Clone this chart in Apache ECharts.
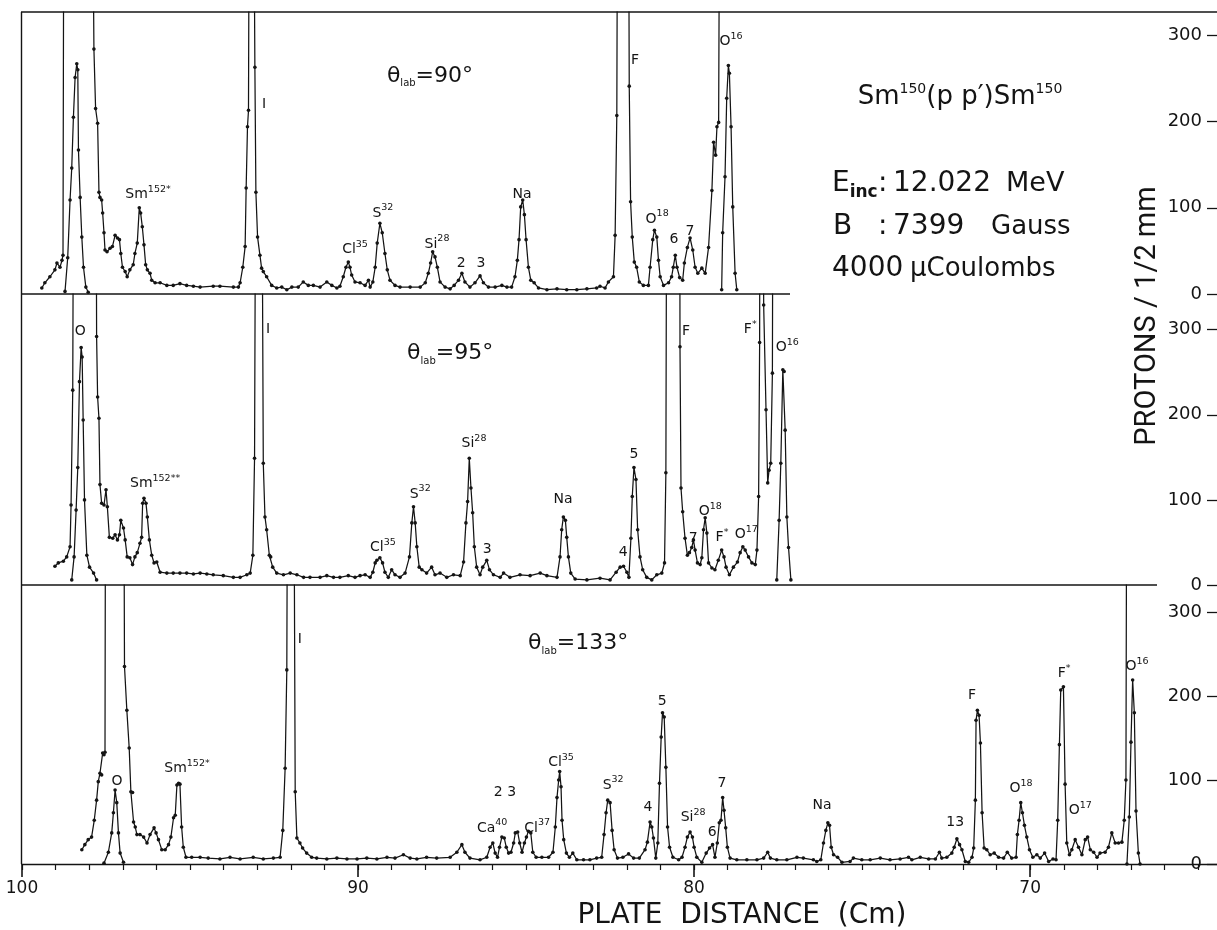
<!DOCTYPE html>
<html><head><meta charset="utf-8">
<script src="https://cdn.jsdelivr.net/npm/echarts@6/dist/echarts.min.js"></script>
<style>html,body{margin:0;padding:0;background:#fff}#c{width:1217px;height:930px}</style>
</head><body><div id="c"></div>
<script>
// ---------- axes ----------
const xMin = 64.44, xMax = 100;
const xMajorTicks = [100, 90, 80, 70];
const xMinorTicks = [65,66,67,68,69,70,71,72,73,74,75,76,77,78,79,80,81,82,83,84,85,86,87,88,89,90,91,92,93,94,95,96,97,98,99,100];
const yTicks = [0, 100, 200, 300];
const panelMax = [327, 342, 332];

// ---------- panel 1 : theta = 90 ----------
const p1Main = [[99.41,7],[99.32,13],[99.17,20],[99.02,28],[98.96,36],[98.87,31],[98.81,39],[98.78,45],[98.75,600],[97.92,600],[97.86,284],[97.81,215],[97.75,198],[97.71,118],[97.68,112],[97.63,109],[97.60,94],[97.56,71],[97.53,51],[97.47,49],[97.38,53],[97.31,55],[97.23,68],[97.16,65],[97.10,63],[97.06,47],[97.01,31],[96.93,26],[96.87,20],[96.79,28],[96.69,34],[96.64,47],[96.57,59],[96.51,100],[96.47,94],[96.42,78],[96.37,57],[96.32,34],[96.27,28],[96.19,24],[96.14,16],[96.04,13],[95.89,13],[95.69,10],[95.50,10],[95.30,12],[95.10,10],[94.90,9],[94.70,8],[94.31,9],[94.11,9],[93.71,8],[93.56,8],[93.51,13],[93.43,31],[93.36,55],[93.33,123],[93.29,194],[93.26,213],[93.23,600],[93.12,600],[93.07,263],[93.04,118],[92.99,66],[92.92,45],[92.87,30],[92.82,26],[92.72,20],[92.57,10],[92.42,7],[92.27,8],[92.12,5],[91.97,8],[91.78,8],[91.63,14],[91.48,10],[91.33,10],[91.13,8],[90.93,14],[90.78,10],[90.63,7],[90.54,9],[90.44,20],[90.36,31],[90.29,37],[90.24,31],[90.19,22],[90.09,14],[89.94,13],[89.79,10],[89.69,16],[89.64,8],[89.56,14],[89.49,31],[89.43,59],[89.35,82],[89.28,71],[89.20,47],[89.13,28],[89.05,16],[88.90,10],[88.75,8],[88.45,8],[88.15,8],[88.00,13],[87.91,24],[87.84,36],[87.78,49],[87.71,43],[87.64,31],[87.56,14],[87.41,8],[87.26,6],[87.14,10],[87.01,16],[86.91,24],[86.82,14],[86.67,8],[86.52,13],[86.37,21],[86.27,13],[86.12,8],[85.92,8],[85.72,10],[85.57,8],[85.43,8],[85.33,20],[85.26,39],[85.21,63],[85.16,101],[85.10,109],[85.05,92],[85.00,63],[84.93,31],[84.86,16],[84.76,13],[84.63,7],[84.38,5],[84.08,6],[83.79,5],[83.49,5],[83.19,6],[82.90,7],[82.80,9],[82.65,7],[82.55,14],[82.40,20],[82.35,68],[82.30,207],[82.27,600],[81.96,600],[81.93,241],[81.89,107],[81.84,66],[81.78,37],[81.71,31],[81.63,14],[81.51,10],[81.36,10],[81.31,31],[81.23,63],[81.18,74],[81.11,66],[81.06,39],[81.01,20],[80.91,10],[80.76,13],[80.67,20],[80.62,31],[80.56,45],[80.51,31],[80.43,19],[80.34,16],[80.29,36],[80.20,54],[80.12,65],[80.04,51],[79.97,31],[79.89,24],[79.77,30],[79.67,24],[79.57,54],[79.47,120],[79.42,176],[79.36,161],[79.32,194],[79.27,199],[79.23,600]];
const p1OPeak = [[98.72,3],[98.64,42],[98.57,109],[98.52,146],[98.47,205],[98.42,251],[98.37,267],[98.34,260],[98.32,167],[98.27,112],[98.22,66],[98.17,31],[98.10,8],[98.03,2]];
const p1O16Peak = [[79.18,5],[79.15,71],[79.08,136],[79.03,227],[78.98,265],[78.95,256],[78.90,194],[78.85,101],[78.78,24],[78.73,5]];
const p1Labels = [['Sm{s|152*}',96.25,115],['I',92.80,220],['Cl{s|35}',90.09,52],['S{s|32}',89.26,94],['Si{s|28}',87.65,58],['2',86.93,36],['3',86.34,36],['Na',85.12,115],['F',81.76,271],['O{s|18}',81.10,87],['6',80.60,63],['7',80.12,73],['O{s|16}',78.90,293]];
const p1Angle = [['{t|θ}{l|lab}{t|=90°}',87.86,253]];

// ---------- panel 2 : theta = 95 ----------
const p2Main = [[99.02,22],[98.92,26],[98.77,28],[98.67,33],[98.57,45],[98.54,94],[98.49,229],[98.46,600],[97.80,600],[97.78,292],[97.75,221],[97.71,196],[97.68,118],[97.63,96],[97.56,94],[97.50,112],[97.46,92],[97.40,56],[97.30,55],[97.23,59],[97.16,53],[97.10,59],[97.06,76],[96.98,67],[96.93,53],[96.87,33],[96.79,32],[96.71,24],[96.64,33],[96.57,38],[96.49,49],[96.44,56],[96.41,96],[96.37,102],[96.31,96],[96.27,80],[96.21,53],[96.14,35],[96.07,26],[95.99,27],[95.89,15],[95.69,14],[95.50,14],[95.30,14],[95.10,14],[94.90,13],[94.70,14],[94.50,13],[94.31,12],[94.01,11],[93.71,9],[93.51,9],[93.31,12],[93.21,14],[93.13,35],[93.08,149],[93.04,600],[92.87,600],[92.82,143],[92.77,80],[92.72,65],[92.64,35],[92.60,33],[92.54,21],[92.42,14],[92.22,12],[92.02,14],[91.82,12],[91.62,9],[91.43,9],[91.13,9],[90.93,11],[90.73,9],[90.54,9],[90.29,11],[90.09,9],[89.94,11],[89.79,12],[89.64,9],[89.56,15],[89.49,26],[89.44,29],[89.35,32],[89.27,26],[89.20,15],[89.10,9],[89.00,18],[88.90,12],[88.75,9],[88.60,14],[88.47,33],[88.40,73],[88.35,92],[88.30,73],[88.25,45],[88.18,21],[88.10,18],[87.96,14],[87.81,21],[87.71,12],[87.56,14],[87.36,9],[87.16,12],[86.96,11],[86.86,27],[86.79,73],[86.74,98],[86.69,149],[86.64,114],[86.59,85],[86.54,45],[86.47,21],[86.37,12],[86.29,21],[86.17,29],[86.09,18],[85.97,12],[85.77,9],[85.67,14],[85.48,9],[85.18,12],[84.88,11],[84.58,14],[84.38,11],[84.08,9],[83.99,33],[83.94,65],[83.89,80],[83.83,76],[83.79,56],[83.74,33],[83.67,14],[83.54,7],[83.19,6],[82.80,8],[82.50,6],[82.32,15],[82.20,21],[82.10,22],[82.00,15],[81.94,9],[81.88,55],[81.84,104],[81.79,138],[81.73,124],[81.68,65],[81.61,33],[81.53,18],[81.41,9],[81.26,6],[81.11,12],[80.96,14],[80.88,26],[80.84,132],[80.81,600],[80.43,600],[80.42,280],[80.39,114],[80.34,86],[80.27,55],[80.20,35],[80.14,38],[80.07,44],[80.02,53],[79.97,41],[79.90,26],[79.82,24],[79.77,32],[79.72,65],[79.67,79],[79.62,61],[79.57,26],[79.47,20],[79.38,18],[79.28,29],[79.18,41],[79.11,33],[79.05,21],[78.95,12],[78.83,21],[78.71,27],[78.63,38],[78.55,45],[78.48,41],[78.38,33],[78.28,26],[78.18,24],[78.13,41],[78.08,104],[78.05,285],[78.04,600],[77.94,600],[77.93,329],[77.86,206],[77.81,120],[77.77,135],[77.72,143],[77.67,249],[77.65,600]];
const p2OPeak = [[98.52,6],[98.45,33],[98.39,88],[98.34,138],[98.29,239],[98.24,279],[98.21,268],[98.18,194],[98.14,100],[98.07,35],[97.99,21],[97.87,14],[97.78,6]];
const p2O16Peak = [[77.54,6],[77.47,76],[77.42,143],[77.36,253],[77.32,251],[77.29,182],[77.24,80],[77.19,44],[77.12,6]];
const p2Labels = [['O',98.27,298],['I',92.68,300],['Sm{s|152**}',96.04,119],['Cl{s|35}',89.26,44],['S{s|32}',88.15,107],['Si{s|28}',86.55,166],['3',86.16,42],['Na',83.90,101],['4',82.11,38],['5',81.79,153],['F',80.24,298],['7',80.03,55],['O{s|18}',79.52,86],['F{s|*}',79.17,56],['O{s|17}',78.45,59],['F{s|*}',78.33,300],['O{s|16}',77.23,279]];
const p2Angle = [['{t|θ}{l|lab}{t|=95°}',87.26,272]];

// ---------- panel 3 : theta = 133 ----------
const p3Main = [[98.22,17],[98.13,23],[98.03,29],[97.93,32],[97.85,52],[97.78,76],[97.73,98],[97.68,108],[97.63,106],[97.60,132],[97.56,130],[97.53,133],[97.51,600],[96.98,600],[96.95,235],[96.88,183],[96.81,138],[96.76,86],[96.71,85],[96.68,50],[96.63,44],[96.58,35],[96.49,35],[96.38,32],[96.28,25],[96.19,35],[96.07,43],[96.01,37],[95.94,29],[95.84,17],[95.74,17],[95.64,23],[95.57,32],[95.49,55],[95.44,58],[95.39,94],[95.34,96],[95.30,95],[95.25,44],[95.20,20],[95.12,8],[94.95,8],[94.70,8],[94.46,7],[94.11,6],[93.81,8],[93.51,6],[93.12,8],[92.82,6],[92.52,7],[92.32,8],[92.24,40],[92.17,114],[92.12,231],[92.09,600],[91.92,600],[91.87,86],[91.82,31],[91.73,25],[91.65,19],[91.53,13],[91.38,8],[91.23,7],[90.93,6],[90.63,7],[90.33,6],[90.03,6],[89.74,7],[89.44,6],[89.14,8],[88.90,7],[88.65,11],[88.45,7],[88.25,6],[87.96,8],[87.66,7],[87.26,8],[87.06,14],[86.91,23],[86.82,14],[86.67,7],[86.37,5],[86.17,8],[86.07,20],[85.99,25],[85.92,13],[85.85,8],[85.79,20],[85.72,32],[85.65,31],[85.59,20],[85.52,13],[85.45,14],[85.37,25],[85.32,37],[85.25,38],[85.19,25],[85.12,14],[85.05,25],[84.99,32],[84.93,39],[84.86,37],[84.80,14],[84.70,8],[84.53,8],[84.33,8],[84.20,14],[84.13,44],[84.08,79],[84.03,100],[84.00,110],[83.96,92],[83.93,52],[83.88,29],[83.80,13],[83.71,8],[83.61,13],[83.49,5],[83.29,5],[83.10,5],[82.90,7],[82.75,8],[82.68,35],[82.62,61],[82.57,76],[82.50,73],[82.44,40],[82.38,17],[82.28,7],[82.12,8],[81.95,12],[81.80,7],[81.63,7],[81.46,17],[81.39,26],[81.31,50],[81.26,44],[81.21,31],[81.14,7],[81.08,25],[81.03,96],[80.98,151],[80.94,180],[80.89,175],[80.84,115],[80.79,44],[80.73,20],[80.63,8],[80.46,5],[80.36,8],[80.27,20],[80.20,32],[80.12,38],[80.05,32],[80.00,20],[79.92,8],[79.77,2],[79.64,13],[79.54,19],[79.45,23],[79.38,8],[79.31,25],[79.25,49],[79.20,52],[79.15,79],[79.11,64],[79.06,43],[79.01,20],[78.93,7],[78.73,5],[78.43,5],[78.13,5],[77.93,7],[77.81,14],[77.73,7],[77.54,5],[77.24,5],[76.94,8],[76.75,7],[76.45,5],[76.35,3],[76.23,5],[76.15,25],[76.08,40],[76.02,49],[75.97,46],[75.92,20],[75.85,11],[75.73,8],[75.60,2],[75.36,3],[75.26,7],[75.01,5],[74.76,5],[74.46,7],[74.17,5],[73.87,6],[73.62,8],[73.52,5],[73.27,8],[73.02,6],[72.82,6],[72.70,14],[72.63,7],[72.48,8],[72.33,13],[72.26,20],[72.18,30],[72.10,23],[72.03,17],[71.93,3],[71.83,2],[71.73,8],[71.68,19],[71.63,76],[71.61,171],[71.57,183],[71.52,177],[71.48,144],[71.43,61],[71.37,19],[71.29,17],[71.19,11],[71.07,13],[70.94,8],[70.79,7],[70.68,14],[70.55,7],[70.42,8],[70.38,35],[70.33,52],[70.28,73],[70.23,61],[70.17,46],[70.10,32],[70.02,17],[69.92,8],[69.80,11],[69.70,7],[69.57,13],[69.45,3],[69.32,6],[69.23,5],[69.18,52],[69.13,142],[69.09,207],[69.01,211],[68.96,95],[68.91,25],[68.83,11],[68.76,17],[68.66,29],[68.56,20],[68.46,11],[68.36,29],[68.29,32],[68.21,17],[68.11,14],[68.01,8],[67.92,13],[67.77,14],[67.67,20],[67.57,37],[67.47,25],[67.37,25],[67.27,26],[67.20,52],[67.15,100],[67.12,600]];
const p3OPeak = [[97.56,1],[97.43,14],[97.33,37],[97.28,61],[97.23,88],[97.18,73],[97.13,37],[97.08,13],[96.98,2]];
const p3O16Peak = [[67.12,0],[67.05,56],[67.00,145],[66.95,219],[66.90,180],[66.85,63],[66.78,13],[66.73,0]];
const p3Labels = [['O',97.17,98],['Sm{s|152*}',95.09,114],['I',91.73,267],['2 3',85.63,85],['Ca{s|40}',86.01,43],['Cl{s|37}',84.67,43],['Cl{s|35}',83.96,121],['S{s|32}',82.41,94],['4',81.37,67],['5',80.95,193],['Si{s|28}',80.03,55],['6',79.46,38],['7',79.17,96],['Na',76.19,70],['13',72.23,49],['F',71.73,201],['O{s|18}',70.27,90],['F{s|*}',68.99,227],['O{s|17}',68.51,64],['O{s|16}',66.82,235]];
const p3Angle = [['{t|θ}{l|lab}{t|=133°}',83.45,263]];

// ---------- texts ----------
const reactionText = 'Sm{s|150}(p p\u2032)Sm{s|150}';
const infoRow1 = ['E{b|inc}', ':', '12.022', 'MeV'];
const infoRow2 = ['B', ':', '7399', 'Gauss'];
const infoRow3 = ['4000', '\u03bcCoulombs'];
const xTitle = 'PLATE  DISTANCE  (Cm)';
const yTitle = 'PROTONS / 1/2 mm';

// ---------- build ----------
const INK = '#141414';
const FONT = 'DejaVu Sans';
const grids = [
  {left: 22, right: 0, top: 12, height: 282},
  {left: 22, right: 0, top: 294, height: 291},
  {left: 22, right: 0, top: 585, height: 279}
].map(g => Object.assign(g, {outerBoundsMode: 'none', containLabel: false}));

const xAxes = [0, 1, 2].map(i => ({
  gridIndex: i, type: 'value', inverse: true, min: xMin, max: xMax,
  axisLine: {show: i === 2, onZero: false, lineStyle: {color: INK, width: 1.4}},
  axisTick: {show: i === 2, customValues: xMinorTicks, length: 6, lineStyle: {color: INK, width: 1.2}},
  axisLabel: {show: false}, splitLine: {show: false}
}));
xAxes.push({
  gridIndex: 2, type: 'value', inverse: true, min: xMin, max: xMax, position: 'bottom',
  axisLine: {show: false},
  axisTick: {show: true, customValues: xMajorTicks, length: 13, lineStyle: {color: INK, width: 1.6}},
  axisLabel: {show: true, customValues: xMajorTicks, margin: 16, fontSize: 17, fontFamily: FONT, color: INK},
  splitLine: {show: false}
});

const yAxes = [0, 1, 2].map(i => ({
  gridIndex: i, type: 'value', position: 'right', min: 0, max: panelMax[i],
  axisLine: {show: false},
  axisTick: {show: true, inside: true, length: 10, customValues: yTicks, lineStyle: {color: INK, width: 1.3}},
  axisLabel: {show: true, inside: true, margin: 15, customValues: yTicks, fontSize: 18, fontFamily: FONT, color: INK},
  splitLine: {show: false}
}));

function curve(data, i) {
  return {
    type: 'line', xAxisIndex: i, yAxisIndex: i, data: data, clip: true,
    symbol: 'circle', symbolSize: 3.6, showSymbol: true,
    lineStyle: {color: INK, width: 1.25}, itemStyle: {color: INK},
    animation: false, silent: true, z: 3
  };
}
function labels(arr, i, big) {
  return {
    type: 'scatter', xAxisIndex: i, yAxisIndex: i, symbolSize: 0, animation: false, silent: true, z: 5,
    itemStyle: {color: 'rgba(0,0,0,0)', opacity: 1},
    data: arr.map(a => ({value: [a[1], a[2]], name: a[0]})),
    label: {
      show: true, position: 'inside', formatter: p => p.name, opacity: 1,
      fontFamily: FONT, fontSize: big ? 22 : 14, color: INK, lineHeight: big ? 26 : 20,
      textBorderWidth: 0, textBorderColor: 'transparent', textShadowBlur: 0,
      rich: {
        s: {fontFamily: FONT, fontSize: 9.5, color: INK, verticalAlign: 'top', lineHeight: 10, textBorderWidth: 0},
        t: {fontFamily: FONT, fontSize: 22, color: INK, lineHeight: 26, textBorderWidth: 0},
        l: {fontFamily: FONT, fontSize: 10, color: INK, verticalAlign: 'bottom', lineHeight: 12, textBorderWidth: 0}
      }
    },
    emphasis: {disabled: true}
  };
}

const series = [
  curve(p1Main, 0), curve(p1OPeak, 0), curve(p1O16Peak, 0), labels(p1Labels, 0), labels(p1Angle, 0, true),
  curve(p2Main, 1), curve(p2OPeak, 1), curve(p2O16Peak, 1), labels(p2Labels, 1), labels(p2Angle, 1, true),
  curve(p3Main, 2), curve(p3OPeak, 2), curve(p3O16Peak, 2), labels(p3Labels, 2), labels(p3Angle, 2, true)
];

function txt(x, y, text, size, extra) {
  return {type: 'text', x: x, y: y, silent: true, style: Object.assign({
    text: text, align: 'left', verticalAlign: 'middle', fill: INK, fontFamily: FONT, fontSize: size
  }, extra || {})};
}
const lineStyle = {stroke: INK, lineWidth: 1.4};
const graphic = [
  {type: 'line', shape: {x1: 21, y1: 12, x2: 1217, y2: 12}, style: lineStyle, silent: true},
  {type: 'line', shape: {x1: 21.5, y1: 12, x2: 21.5, y2: 864}, style: lineStyle, silent: true},
  {type: 'line', shape: {x1: 21, y1: 294, x2: 790, y2: 294}, style: lineStyle, silent: true},
  {type: 'line', shape: {x1: 21, y1: 585, x2: 1157, y2: 585}, style: lineStyle, silent: true},
  txt(960, 97, reactionText, 26, {align: 'center', lineHeight: 30,
    rich: {s: {fontFamily: FONT, fontSize: 14, fill: INK, verticalAlign: 'top', lineHeight: 14}}}),
  txt(832, 184, infoRow1[0], 28, {lineHeight: 34,
    rich: {b: {fontFamily: FONT, fontSize: 17, fontWeight: 'bold', fill: INK, verticalAlign: 'bottom', lineHeight: 20}}}),
  txt(878, 184, infoRow1[1], 28),
  txt(893, 184, infoRow1[2], 28),
  txt(1006, 184, infoRow1[3], 27),
  txt(833, 227, infoRow2[0], 28),
  txt(878, 227, infoRow2[1], 28),
  txt(893, 227, infoRow2[2], 28),
  txt(991, 227, infoRow2[3], 26),
  txt(832, 269, infoRow3[0], 28),
  txt(910, 269, infoRow3[1], 26),
  {type: 'text', x: 1148, y: 316, rotation: Math.PI / 2, silent: true, style: {
    text: yTitle, align: 'center', verticalAlign: 'middle', fill: INK,
    fontFamily: 'Roboto', fontSize: 29}},
  txt(742, 916, xTitle, 28, {align: 'center'})
];

const chart = echarts.init(document.getElementById('c'), null, {renderer: 'canvas'});
chart.setOption({
  backgroundColor: '#ffffff',
  animation: false,
  grid: grids,
  xAxis: xAxes,
  yAxis: yAxes,
  series: series,
  graphic: graphic
});
</script>
</body></html>
